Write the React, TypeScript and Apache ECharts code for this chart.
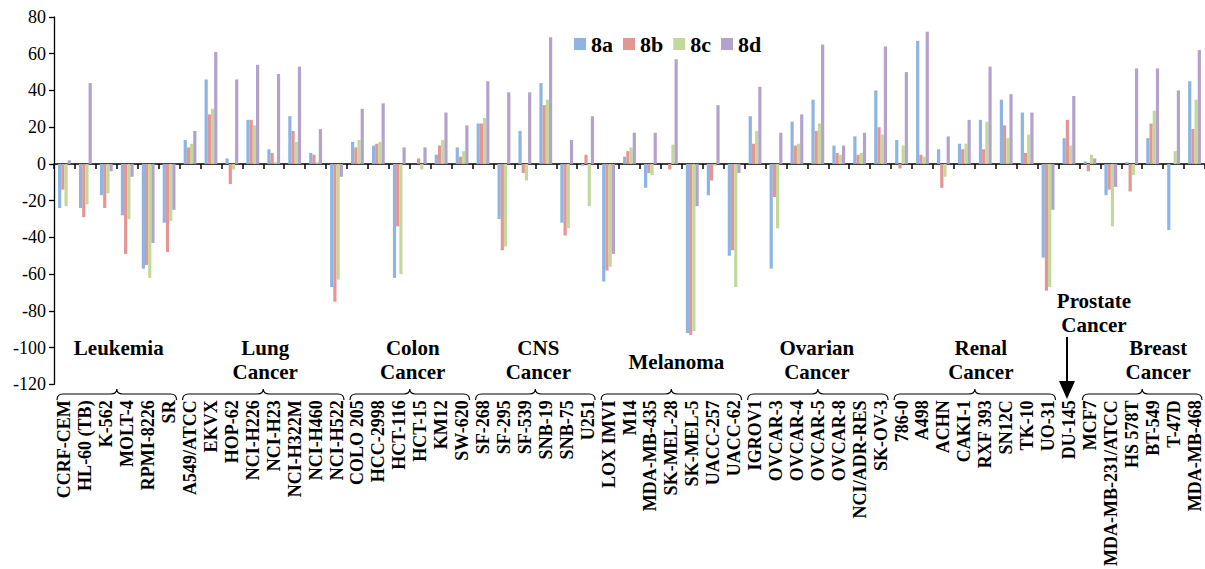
import React, { useEffect, useRef } from 'react';
import * as echarts from 'echarts';

// ---------------- DATA ----------------
const categories = [
  'CCRF-CEM', 'HL-60 (TB)', 'K-562', 'MOLT-4', 'RPMI-8226', 'SR',
  'A549/ATCC', 'EKVX', 'HOP-62', 'NCI-H226', 'NCI-H23', 'NCI-H322M', 'NCI-H460', 'NCI-H522',
  'COLO 205', 'HCC-2998', 'HCT-116', 'HCT-15', 'KM12', 'SW-620',
  'SF-268', 'SF-295', 'SF-539', 'SNB-19', 'SNB-75', 'U251',
  'LOX IMVI', 'M14', 'MDA-MB-435', 'SK-MEL-28', 'SK-MEL-5', 'UACC-257', 'UACC-62',
  'IGROV1', 'OVCAR-3', 'OVCAR-4', 'OVCAR-5', 'OVCAR-8', 'NCI/ADR-RES', 'SK-OV-3',
  '786-0', 'A498', 'ACHN', 'CAKI-1', 'RXF 393', 'SN12C', 'TK-10', 'UO-31',
  'DU-145',
  'MCF7', 'MDA-MB-231/ATCC', 'HS 578T', 'BT-549', 'T-47D', 'MDA-MB-468',
];

const values8a = [
  -24, -24, -17, -28, -57, -32,
  13, 46, 3, 24, 8, 26, 6, -67,
  12, 10, -62, 0, 5, 9,
  22, -30, 18, 44, -32, -1,
  -64, 4, -13, 0, -92, -17, -50,
  26, -57, 23, 35, 10, 15, 40,
  13, 67, 8, 11, 24, 35, 28, -51,
  14,
  1.4, -17, 1, 14, -36, 45,
];
const values8b = [
  -14, -29, -24, -49, -55, -48,
  9, 27, -11, 24, 6, 18, 5, -75,
  9, 11, -34, 3, 10, 4,
  22, -47, -5, 32, -39, 5,
  -58, 7, -5, -3, -93, -9, -47,
  11, -18, 10, 18, 6, 5, 20,
  -2.5, 5, -13, 8, 8, 21, 6, -69,
  24,
  -4, -14, -15, 22, 0, 19,
];
const values8c = [
  -23, -22, -16, -30, -62, -31,
  11, 30, -3, 21, 1, 12, 1, -63,
  13, 12, -60, -3, 13, 7,
  25, -45, -9, 35, -35, -23,
  -56, 9, -6, 10.5, -91, -1, -67,
  18, -35, 11, 22, 5, 6, 16,
  10, 4, -7, 11, 23, 14, 16, -67,
  10,
  5, -34, -6, 29, 7, 35,
];
const values8d = [
  2, 44, -4, -7, -43, -25,
  18, 61, 46, 54, 49, 53, 19, -7,
  30, 33, 9, 9, 28, 21,
  45, 39, 39, 69, 13, 26,
  -49, 17, 17, 57, -23, 32, -5,
  42, 17, 27, 65, 10, 17, 64,
  50, 72, 15, 24, 53, 38, 28, -25,
  37,
  3, -12.5, 52, 52, 40, 62,
];

const seriesNames = ['8a', '8b', '8c', '8d'];
const seriesValues = [values8a, values8b, values8c, values8d];

const yMin = -120;
const yMax = 80;
const yStep = 20;

// cancer panels: first and last category index
const panelNames = [
  ['Leukemia'], ['Lung', 'Cancer'], ['Colon', 'Cancer'], ['CNS', 'Cancer'], ['Melanoma'],
  ['Ovarian', 'Cancer'], ['Renal', 'Cancer'], ['Prostate', 'Cancer'], ['Breast', 'Cancer'],
];
const panelStart = [0, 6, 14, 20, 26, 33, 40, 48, 49];
const panelEnd = [5, 13, 19, 25, 32, 39, 47, 48, 54];

// ---------------- LAYOUT / STYLE ----------------
const colors = ['#8EB4E3', '#E49694', '#C3D99B', '#B3A3CC'];
const FONT = 'Liberation Serif';
// per-panel label placement: x offset from panel centre, y of first line centre
const panelLabelDx = [2, 2, 3, 3, 5, -1, 6, 25, 16];
const panelLabelY = [348, 348, 348, 348, 362, 348, 348, 301, 348];
const LINE_H = 24;
const BRACE_Y = 394;

echarts.graphic.registerShape(
  'brace',
  echarts.graphic.extendShape({
    shape: { x1: 0, x2: 0, y: 0 },
    buildPath(ctx: any, shape: any) {
      const { x1, x2, y } = shape;
      const m = (x1 + x2) / 2;
      const r = 6;
      ctx.moveTo(x1, y + 6);
      ctx.quadraticCurveTo(x1, y, x1 + r, y);
      ctx.lineTo(m - r, y);
      ctx.quadraticCurveTo(m, y, m, y - 5);
      ctx.quadraticCurveTo(m, y, m + r, y);
      ctx.lineTo(x2 - r, y);
      ctx.quadraticCurveTo(x2, y, x2, y + 6);
    },
  })
);

export default function App() {
  const ref = useRef<HTMLDivElement>(null);

  useEffect(() => {
    if (!ref.current) return;
    const chart = echarts.init(ref.current, undefined, { renderer: 'svg' });

    const option: any = {
      animation: false,
      backgroundColor: '#ffffff',
      color: colors,
      textStyle: { fontFamily: FONT, color: '#000' },
      grid: { left: 54, right: 0, top: 17, bottom: 183, containLabel: false },
      legend: {
        data: seriesNames,
        left: 569,
        top: 28,
        icon: 'rect',
        itemWidth: 12,
        itemHeight: 12,
        itemGap: 10,
        selectedMode: false,
        textStyle: { fontFamily: FONT, fontWeight: 'bold', fontSize: 22, color: '#000' },
      },
      xAxis: [
        {
          type: 'category',
          data: categories,
          position: 'bottom',
          axisLine: { show: true, onZero: true, lineStyle: { color: '#000', width: 1.5 } },
          axisTick: { show: true, length: 5, interval: 0, alignWithLabel: false, lineStyle: { color: '#000', width: 1.5 } },
          axisLabel: { show: false },
          splitLine: { show: false },
        },
        {
          type: 'category',
          data: categories,
          position: 'bottom',
          axisLine: { show: false, onZero: false },
          axisTick: { show: false },
          axisLabel: {
            show: true,
            interval: 0,
            rotate: 90,
            margin: 16,
            fontFamily: FONT,
            fontWeight: 'bold',
            fontSize: 18,
            color: '#000',
          },
          splitLine: { show: false },
        },
      ],
      yAxis: {
        type: 'value',
        min: yMin,
        max: yMax,
        interval: yStep,
        axisLine: { show: true, lineStyle: { color: '#000', width: 1.3 } },
        axisTick: { show: true, length: 5, lineStyle: { color: '#000', width: 1.3 } },
        axisLabel: { fontFamily: FONT, fontSize: 18, color: '#000', margin: 8 },
        splitLine: { show: false },
      },
      series: seriesNames.map((name, i) => ({
        name,
        type: 'bar',
        xAxisIndex: 0,
        data: seriesValues[i],
        barWidth: 3.2,
        barGap: '0%',
        itemStyle: { color: colors[i] },
      })),
    };

    chart.setOption(option);

    // annotations: panel labels, braces and the arrow, positioned from the axis scale
    const cx = (i: number) => chart.convertToPixel({ xAxisIndex: 0 }, i) as number;
    const band = cx(1) - cx(0);
    const elements: any[] = [];
    panelNames.forEach((lines, p) => {
      const left = cx(panelStart[p]) - band / 2;
      const right = cx(panelEnd[p]) + band / 2;
      const centre = (left + right) / 2;
      lines.forEach((ln, k) => {
        elements.push({
          type: 'text',
          x: centre + panelLabelDx[p],
          y: panelLabelY[p] + k * LINE_H,
          style: {
            text: ln,
            fontFamily: FONT,
            fontWeight: 'bold',
            fontSize: 21,
            fill: '#000',
            align: 'center',
            verticalAlign: 'middle',
          },
        });
      });
      if (panelStart[p] !== panelEnd[p]) {
        elements.push({
          type: 'brace',
          shape: { x1: left + 3, x2: right - 3, y: BRACE_Y },
          style: { stroke: '#000', fill: 'none', lineWidth: 1.2 },
        });
      } else {
        const ax = centre - 2;
        elements.push({
          type: 'line',
          shape: { x1: ax, y1: 337, x2: ax, y2: 384 },
          style: { stroke: '#000', lineWidth: 2 },
        });
        elements.push({
          type: 'polygon',
          shape: { points: [[ax - 8, 381], [ax + 8, 381], [ax, 399]] },
          style: { fill: '#000' },
        });
      }
    });
    chart.setOption({ graphic: elements });

    return () => chart.dispose();
  }, []);

  return (
    <div
      ref={ref}
      style={{ position: 'fixed', left: 0, top: 0, width: 1205, height: 569, background: '#fff' }}
    />
  );
}
